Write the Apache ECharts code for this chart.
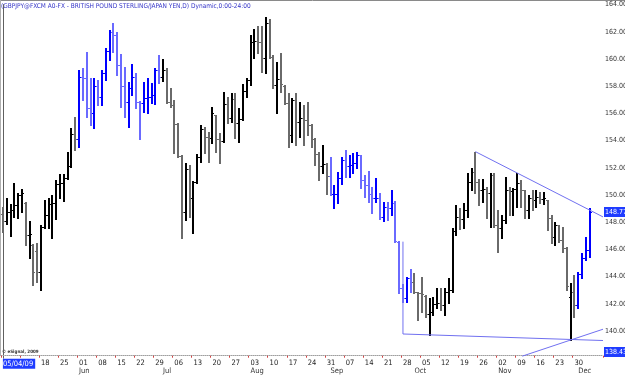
<!DOCTYPE html>
<html><head><meta charset="utf-8">
<script src="https://cdn.jsdelivr.net/npm/echarts/dist/echarts.min.js"></script>
<style>html,body{margin:0;padding:0;background:#fff}#c{width:625px;height:375px}</style>
</head><body><div id="c"></div><script>
// Trading days (categories); the last three are empty slots at the right edge
const dates = [
'2009-05-04','2009-05-05','2009-05-06','2009-05-07','2009-05-08',
'2009-05-11','2009-05-12','2009-05-13','2009-05-14','2009-05-15',
'2009-05-18','2009-05-19','2009-05-20','2009-05-21','2009-05-22',
'2009-05-25','2009-05-26','2009-05-27','2009-05-28','2009-05-29',
'2009-06-01','2009-06-02','2009-06-03','2009-06-04','2009-06-05',
'2009-06-08','2009-06-09','2009-06-10','2009-06-11','2009-06-12',
'2009-06-15','2009-06-16','2009-06-17','2009-06-18','2009-06-19',
'2009-06-22','2009-06-23','2009-06-24','2009-06-25','2009-06-26',
'2009-06-29','2009-06-30','2009-07-01','2009-07-02','2009-07-03',
'2009-07-06','2009-07-07','2009-07-08','2009-07-09','2009-07-10',
'2009-07-13','2009-07-14','2009-07-15','2009-07-16','2009-07-17',
'2009-07-20','2009-07-21','2009-07-22','2009-07-23','2009-07-24',
'2009-07-27','2009-07-28','2009-07-29','2009-07-30','2009-07-31',
'2009-08-03','2009-08-04','2009-08-05','2009-08-06','2009-08-07',
'2009-08-10','2009-08-11','2009-08-12','2009-08-13','2009-08-14',
'2009-08-17','2009-08-18','2009-08-19','2009-08-20','2009-08-21',
'2009-08-24','2009-08-25','2009-08-26','2009-08-27','2009-08-28',
'2009-08-31','2009-09-01','2009-09-02','2009-09-03','2009-09-04',
'2009-09-07','2009-09-08','2009-09-09','2009-09-10','2009-09-11',
'2009-09-14','2009-09-15','2009-09-16','2009-09-17','2009-09-18',
'2009-09-21','2009-09-22','2009-09-23','2009-09-24','2009-09-25',
'2009-09-28','2009-09-29','2009-09-30','2009-10-01','2009-10-02',
'2009-10-05','2009-10-06','2009-10-07','2009-10-08','2009-10-09',
'2009-10-12','2009-10-13','2009-10-14','2009-10-15','2009-10-16',
'2009-10-19','2009-10-20','2009-10-21','2009-10-22','2009-10-23',
'2009-10-26','2009-10-27','2009-10-28','2009-10-29','2009-10-30',
'2009-11-02','2009-11-03','2009-11-04','2009-11-05','2009-11-06',
'2009-11-09','2009-11-10','2009-11-11','2009-11-12','2009-11-13',
'2009-11-16','2009-11-17','2009-11-18','2009-11-19','2009-11-20',
'2009-11-23','2009-11-24','2009-11-25','2009-11-26','2009-11-27',
'2009-11-30','2009-12-01','2009-12-02','2009-12-03','2009-12-04',
'2009-12-07','2009-12-08','2009-12-09'
];
const opens = [
148.60,148.11,148.77,148.90,149.26,150.00,149.40,147.06,146.30,145.90,
144.31,147.67,148.53,149.31,149.39,150.78,150.86,151.23,152.13,154.46,
154.12,158.70,158.58,156.37,156.00,158.02,157.23,158.95,160.61,161.96,
161.76,159.56,158.04,156.81,157.84,158.70,156.81,156.74,157.16,157.20,
157.35,159.19,158.70,159.19,156.84,156.62,155.22,152.87,148.77,151.89,
149.75,150.93,152.82,154.83,154.24,154.17,155.85,154.12,153.99,156.69,
155.64,157.03,155.27,155.61,157.67,158.45,161.28,161.35,161.28,160.10,
162.62,160.17,158.09,158.50,158.05,156.74,154.41,156.99,155.39,155.64,
155.52,155.15,154.09,152.99,152.16,152.25,151.42,150.05,150.10,151.23,
152.57,152.16,152.21,152.33,152.94,151.10,150.74,150.05,149.75,149.80,
148.41,149.14,149.07,149.39,146.57,143.14,142.40,143.87,143.63,142.84,
142.77,142.60,141.23,141.37,141.96,142.03,141.91,142.84,143.01,147.38,
148.40,148.21,148.90,150.98,151.72,150.98,150.37,150.42,150.12,151.47,
147.79,147.60,148.16,150.37,150.30,150.45,150.86,150.37,148.90,149.75,
149.63,149.88,149.68,149.60,148.28,146.94,147.79,146.69,146.08,142.50,
142.90,141.91,144.20,145.34,145.96
];
const highs = [
149.14,149.80,149.31,150.86,150.12,150.44,149.46,148.09,146.37,146.45,
147.79,149.63,149.80,150.00,151.10,151.52,151.52,153.14,154.90,155.76,
159.19,159.31,160.49,158.58,158.58,158.46,159.19,160.78,162.13,162.62,
162.01,160.34,159.44,158.33,159.61,158.95,156.91,158.33,158.58,158.21,
159.31,160.29,159.98,159.31,157.84,156.99,155.32,152.94,152.33,152.21,
151.05,153.01,155.15,155.03,154.66,156.45,155.88,154.54,157.60,157.18,
157.48,157.48,156.37,158.16,158.58,161.77,162.18,162.43,162.43,163.06,
162.92,160.29,159.80,160.42,158.09,157.48,157.11,157.52,156.86,156.62,
156.81,155.20,154.17,153.19,153.68,152.33,152.82,150.74,151.72,152.82,
153.31,152.94,153.06,153.14,152.94,151.47,151.77,150.61,151.23,150.12,
149.51,149.51,150.37,149.56,146.60,143.43,143.99,144.56,144.24,142.89,
143.99,142.65,142.40,142.52,143.14,143.19,143.19,143.87,147.55,149.27,
149.02,149.39,151.59,151.96,153.19,151.15,151.15,150.61,151.59,151.59,
148.90,148.53,151.35,150.61,150.49,151.59,151.10,150.37,150.00,150.37,
150.37,150.24,150.24,149.63,148.53,148.04,147.79,147.67,146.20,143.50,
144.12,144.36,145.71,146.94,149.02
];
const lows = [
147.30,147.84,146.99,148.41,148.33,148.77,146.32,145.34,143.38,143.58,
143.01,147.55,147.55,146.86,148.24,149.80,149.56,151.20,152.08,153.31,
153.55,156.98,155.76,155.15,154.90,156.62,156.62,158.46,159.93,160.49,
158.82,156.50,155.76,155.02,157.35,156.37,154.12,156.13,156.00,156.74,
156.69,158.26,158.41,156.74,156.50,153.06,152.82,146.81,148.16,148.40,
147.18,150.86,152.45,153.06,152.45,153.80,153.19,152.33,153.92,155.27,
155.39,154.17,153.92,155.50,157.23,158.09,160.05,160.42,159.07,158.99,
160.05,157.84,156.00,157.60,156.69,153.55,153.92,153.68,154.29,153.68,
154.41,153.55,152.21,151.10,151.59,150.05,150.00,149.07,149.39,150.78,
151.35,151.35,151.59,151.96,150.49,149.88,149.51,148.65,149.51,148.24,
148.09,148.16,148.53,146.57,142.77,142.11,142.11,142.89,142.77,140.81,
141.42,141.05,139.71,141.18,141.67,141.54,141.18,142.03,142.89,147.06,
147.47,147.55,148.41,150.37,150.12,149.26,149.51,148.28,147.67,147.67,
145.83,146.81,147.92,148.53,148.53,149.14,149.14,148.28,148.28,148.90,
149.14,149.39,149.34,147.43,146.44,146.32,146.57,145.83,143.01,139.34,
141.05,141.67,143.87,145.20,145.46
];
const closes = [
148.11,148.77,148.90,149.26,150.00,150.12,147.06,147.11,144.36,144.31,
147.67,148.53,149.31,149.39,150.78,150.86,151.23,152.13,154.46,154.12,
158.70,158.58,156.37,156.00,158.02,157.23,158.95,160.61,161.96,161.76,
159.56,158.04,156.81,157.84,158.70,156.81,156.74,157.16,157.20,157.35,
159.19,158.70,159.19,156.84,156.62,155.22,152.87,148.77,151.89,149.75,
150.93,152.82,154.83,154.24,154.17,156.01,154.12,153.99,156.69,155.64,
157.03,155.27,155.61,157.67,158.45,161.28,161.35,161.28,160.10,162.62,
160.17,158.09,158.50,158.16,156.74,154.41,156.99,155.39,155.64,155.52,
155.15,154.09,152.99,152.16,152.25,151.42,150.05,150.10,151.23,152.57,
152.16,152.21,152.33,152.94,151.10,150.74,150.05,149.75,149.80,148.41,
149.14,149.07,149.39,146.60,143.14,142.40,143.87,143.63,142.84,142.77,
142.70,141.23,141.37,141.96,142.03,141.91,142.84,143.01,147.38,148.40,
148.21,148.90,150.98,151.72,150.98,150.37,150.42,150.12,151.47,147.79,
147.60,148.16,150.37,150.30,150.45,150.86,150.37,148.90,149.75,149.63,
149.88,149.68,149.75,148.28,146.94,147.79,146.69,146.08,143.30,142.90,
141.91,144.20,145.34,145.96,148.77
];
// Price scale (tick labels every 2.00)
const priceMin = 138, priceMax = 164, priceStep = 2;
// Drawn lines: [bar index, price]
const resistanceLine = [[124, 153.19], [157.5, 148.39]];
const supportLine = [[105, 146.57], [105, 139.78], [157.5, 139.30]];
const risingLine = [[136.3, 138.15], [157.5, 140.13]];
const lastPrice = 148.77;
const scalePrice = 138.432;
const titleText = '(GBPJPY@FXCM A0-FX - BRITISH POUND STERLING/JAPAN YEN,D) Dynamic,0:00-24:00';
const monthNames = ['Jan','Feb','Mar','Apr','May','Jun','Jul','Aug','Sep','Oct','Nov','Dec'];

const FONT = "'DejaVu Sans Condensed', 'DejaVu Sans', sans-serif";
const nBars = closes.length;
const barData = closes.map((c, i) => [i, opens[i], highs[i], lows[i], c]);
const isMonday = i => i < nBars && new Date(dates[i] + 'T12:00:00Z').getUTCDay() === 1;
// the first date label is shown as a boxed full date, which covers the next Monday
const showDateLabel = i => i === 0 || (i > 5 && isMonday(i));
const isMonthStart = i => i > 0 && i < nBars && dates[i].slice(5, 7) !== dates[i - 1].slice(5, 7);

function renderItem(params, api) {
  const i = api.value(0);
  const o = api.value(1), h = api.value(2), l = api.value(3), c = api.value(4);
  const pH = api.coord([i, h]), pL = api.coord([i, l]);
  const pO = api.coord([i, o]), pC = api.coord([i, c]);
  const x = Math.round(pH[0]);
  const yH = Math.round(pH[1]), yL = Math.round(pL[1]);
  const yO = Math.round(pO[1]), yC = Math.round(pC[1]);
  const mon = +dates[i].slice(5, 7);
  const q = mon % 3 === 0;
  const up = c >= o;
  const col = q ? (up ? '#0000ff' : '#6a6aff') : (up ? '#000000' : '#6a6a6a');
  return {
    type: 'group',
    children: [
      { type: 'rect', shape: { x: x - 1, y: yH, width: 2, height: Math.max(1, yL - yH + 1) }, style: { fill: col } },
      { type: 'rect', shape: { x: x - 2, y: yO, width: 1, height: 1 }, style: { fill: col } },
      { type: 'rect', shape: { x: x + 1, y: yC, width: 1, height: 1 }, style: { fill: col } }
    ]
  };
}

const chart = echarts.init(document.getElementById('c'), null, { renderer: 'canvas' });
const lineStyle = { color: '#7070f0', width: 1 };
chart.setOption({
  animation: false,
  backgroundColor: '#ffffff',
  grid: { left: 1, right: 22, top: 4.6, bottom: 16.8, containLabel: false, outerBoundsMode: 'none' },
  xAxis: [
    {
      type: 'category', data: dates, boundaryGap: true, position: 'bottom', offset: -2.5,
      axisLine: { show: true, lineStyle: { color: '#a0a0a0', type: 'dotted', width: 1 } },
      axisTick: { show: true, interval: (i) => isMonday(i), length: 2, lineStyle: { color: '#d04040' } },
      splitLine: { show: false },
      axisLabel: {
        interval: (i) => showDateLabel(i), align: 'left', margin: 3, hideOverlap: false,
        fontFamily: FONT, fontSize: 7.5, color: '#222',
        formatter: (v, i) => i === 0 ? '{hl|' + v.slice(5, 7) + '/' + v.slice(8, 10) + '/' + v.slice(2, 4) + '}' : v.slice(8, 10),
        rich: { hl: { backgroundColor: '#1f3cff', color: '#ffffff', fontFamily: FONT, fontSize: 7.5, padding: [1, 2, 1, 0] } }
      }
    },
    {
      type: 'category', data: dates, boundaryGap: true, position: 'bottom', offset: 9,
      axisLine: { show: false }, axisTick: { show: false }, splitLine: { show: false },
      axisLabel: {
        interval: (i) => isMonthStart(i), align: 'left', margin: 0,
        fontFamily: FONT, fontSize: 7.5, color: '#333',
        formatter: (v) => monthNames[+v.slice(5, 7) - 1]
      }
    },
    { type: 'value', min: -0.5, max: dates.length - 0.5, show: false }
  ],
  yAxis: {
    type: 'value', position: 'right', min: priceMin, max: priceMax, interval: priceStep,
    axisLine: { show: true, lineStyle: { color: '#606060', width: 1 } },
    axisTick: { show: false }, splitLine: { show: false },
    axisLabel: {
      showMinLabel: false, margin: 2, fontFamily: FONT, fontSize: 7, color: '#333',
      formatter: (v) => v.toFixed(2)
    }
  },
  series: [
    {
      type: 'custom', xAxisIndex: 0, yAxisIndex: 0, renderItem: renderItem,
      encode: { x: 0, y: [1, 2, 3, 4] }, data: barData, silent: true
    },
    { type: 'line', xAxisIndex: 2, data: resistanceLine, symbol: 'none', lineStyle: lineStyle, silent: true },
    { type: 'line', xAxisIndex: 2, data: supportLine, symbol: 'none', lineStyle: lineStyle, silent: true },
    { type: 'line', xAxisIndex: 2, data: risingLine, symbol: 'none', lineStyle: lineStyle, silent: true }
  ]
});

const yLast = chart.convertToPixel({ yAxisIndex: 0 }, lastPrice);
const yScale = chart.convertToPixel({ yAxisIndex: 0 }, scalePrice);
const txt = (x, y, text, fill, size, weight) => ({
  type: 'text', x: x, y: y, silent: true,
  style: { text: text, fill: fill, fontFamily: FONT, fontSize: size, fontWeight: weight || 'normal', verticalAlign: 'middle' }
});
chart.setOption({
  graphic: [
    { type: 'line', shape: { x1: 0, y1: 0.5, x2: 625, y2: 0.5 }, style: { stroke: '#8a8a8a', lineWidth: 1 }, silent: true },
    { type: 'line', shape: { x1: 0.5, y1: 0, x2: 0.5, y2: 356 }, style: { stroke: '#b0b0b0', lineWidth: 1 }, silent: true },
    txt(1, 6, titleText, '#3535c8', 6.5),
    txt(2, 352, '\u00a9 eSignal, 2009', '#333', 4.5, 'bold'),
    { type: 'rect', shape: { x: 604, y: Math.round(yLast) - 5, width: 21, height: 10 }, style: { fill: '#1f3cff' }, silent: true },
    txt(605, yLast, lastPrice.toFixed(2), '#fff', 7),
    { type: 'rect', shape: { x: 604, y: Math.round(yScale) - 5, width: 21, height: 10 }, style: { fill: '#1f3cff' }, silent: true },
    txt(605, yScale, scalePrice.toFixed(3), '#fff', 7)
  ]
});
</script></body></html>
